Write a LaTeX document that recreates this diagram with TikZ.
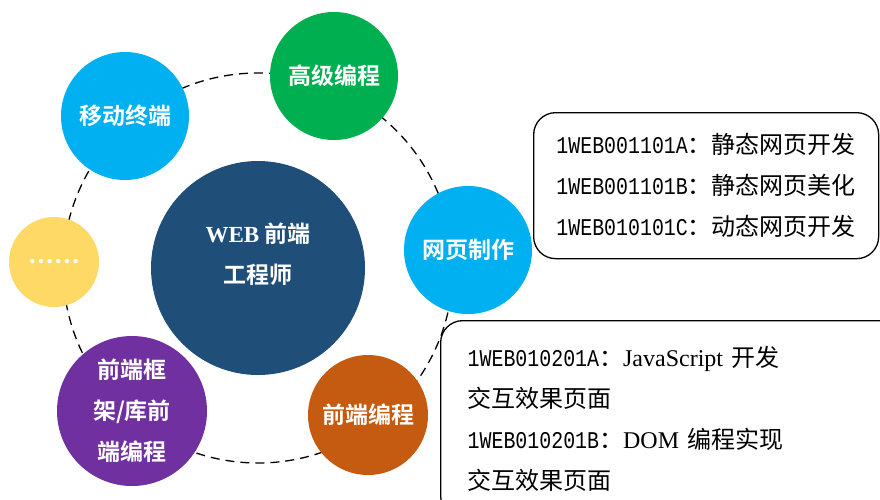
\documentclass[tikz,border=0pt]{standalone}
\usepackage{fontspec}
\setmainfont{Liberation Serif}
\newfontfamily\cjk{Noto Sans CJK SC}[BoldFont={Noto Sans CJK SC Bold}]
\newfontfamily\codefont{Liberation Mono}[FakeStretch=0.83]
\usetikzlibrary{positioning}
\definecolor{skyblue}{HTML}{00B0F0}
\definecolor{leafgreen}{HTML}{00B050}
\definecolor{rust}{HTML}{C55A11}
\definecolor{violet}{HTML}{7030A0}
\definecolor{sand}{HTML}{FFD966}
\definecolor{navy}{HTML}{1F4E79}

\begin{document}
\begin{tikzpicture}[x=1pt,y=-1pt,
    topic/.style={circle,inner sep=0pt,text=white,align=center,
        font=\fontsize{23}{41}\selectfont\bfseries\cjk},
    infobox/.style={draw,line width=1.3pt,rounded corners=22pt,align=left,
        font=\fontsize{24}{41}\selectfont\cjk}]
    \useasboundingbox (0,0) rectangle (880,499);
    \clip (0,0) rectangle (880,499);

    % course boxes
    \node[infobox, anchor=north west, minimum width=345, minimum height=146] (pagebox) at (533,112)
        {{\codefont 1WEB001101A}：静态网页开发\\
         {\codefont 1WEB001101B}：静态网页美化\\
         {\codefont 1WEB010101C}：动态网页开发};
    \node[infobox, anchor=north west, text width=420, inner xsep=27, inner ysep=26] (codebox) at (440,320)
        {{\codefont 1WEB010201A}：{\rmfamily JavaScript} 开发\\
         交互效果页面\\
         {\codefont 1WEB010201B}：{\rmfamily DOM} 编程实现\\
         交互效果页面};

    % centre and ring
    \node[topic, fill=navy, minimum size=214] (engineer) at (258,268) {};
    \node[topic] (title) at ([yshift=14pt]engineer.center) {{\rmfamily WEB} 前端\\工程师};
    \draw[line width=1.3pt, dash pattern=on 9pt off 6pt] (engineer.center) circle (195);

    % topics on the ring
    \node[topic, fill=skyblue, minimum size=128] (mobile) at (125,116) {移动终端};
    \node[topic, fill=leafgreen, minimum size=128] (advanced) at (334,76) {高级编程};
    \node[topic, fill=skyblue, minimum size=128] (webpage) at (468,250) {网页制作};
    \node[topic, fill=rust, minimum size=120] (frontend) at (368,415) {前端编程};
    \node[topic, fill=violet, minimum size=150] (framework) at (132,411) {前端框\\架/库前\\端编程};
    \node[topic, fill=sand, minimum size=90] (more) at (54,262) {……};
\end{tikzpicture}
\end{document}
